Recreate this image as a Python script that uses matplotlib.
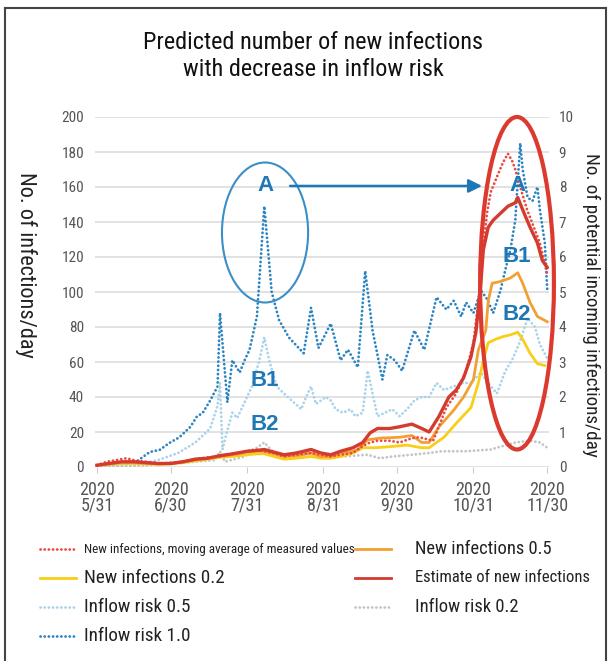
import matplotlib
matplotlib.use("Agg")
import matplotlib.pyplot as plt
from matplotlib import font_manager
from matplotlib.patches import Ellipse
from matplotlib.lines import Line2D

# ---------------------------------------------------------
# pick a narrow sans font if one is installed (the original uses a condensed face)

def pick_narrow():
  fonts = font_manager.fontManager.ttflist
  names = {f.name for f in fonts}
  for n in ['Liberation Sans Narrow', 'Roboto Condensed', 'Noto Sans Condensed',
            'DejaVu Sans Condensed', 'Open Sans Condensed']:
    if n in names:
      return n, 'normal', True
  for fam in ['Roboto', 'Noto Sans', 'DejaVu Sans', 'Open Sans']:
    for f in fonts:
      if f.name == fam and str(f.stretch) in ('condensed', 'semi-condensed') and f.style == 'normal':
        return fam, str(f.stretch), True
  return 'Liberation Sans', 'normal', False

FAMILY, STRETCH, NARROW = pick_narrow()
plt.rcParams['font.family'] = [FAMILY, 'DejaVu Sans']
plt.rcParams['font.stretch'] = STRETCH
k = 1.0 if NARROW else 0.88   # shrink text a bit when only a normal-width face exists

# ---------------------------------------------------------
# data: x = days after 2020-05-31

# left axis (No. of infections/day)
measured_days = [0, 4, 8, 12, 16, 20, 25, 30, 35, 40, 45, 50, 55, 61, 64, 68, 72, 76, 81, 87,
                 91, 95, 99, 104, 108, 111, 114, 119, 123, 128, 131, 136.6, 142, 146, 150, 153,
                 155, 157, 158.5, 160, 162.6, 165, 167, 168.7, 170, 172, 174.8, 177, 180, 183]
measured_vals = [1, 3, 4, 5, 3.5, 3, 2, 2.5, 3, 4.5, 5.5, 6, 7.5, 9, 10, 9, 8, 6, 7, 8,
                 7, 6, 7, 8, 12, 14, 15, 15, 14, 16.5, 17, 15, 34, 42, 55, 71,
                 95, 125, 145, 157, 166, 174, 179, 175, 170, 160, 147, 139, 128, 110]

est_days = [0, 5, 10, 15, 20, 25, 30, 35, 40, 45, 50, 55, 61, 65, 68, 72, 76, 81, 87, 91,
            95, 99, 104, 108, 111, 114, 119, 123, 128, 132, 135, 139, 143, 146, 149, 152,
            154, 156, 157, 159, 161, 164, 167, 170, 171, 173, 176, 179, 181, 183]
est_vals = [1, 2, 3, 3, 2.5, 2, 2, 3, 4.5, 5, 6.5, 7.5, 9, 9.5, 10, 8.5, 7, 8, 10, 8,
            7, 9, 11, 14, 19.5, 22, 22, 23, 24.5, 22, 20, 29, 40, 44, 51, 63,
            77, 105, 124, 137, 141, 145, 149, 151, 154, 147, 137, 128, 118, 114]

nf05_days = [0, 5, 10, 15, 20, 25, 30, 35, 40, 45, 50, 55, 61, 65, 68, 72, 76, 81, 87, 91,
             95, 99, 104, 106, 110, 115, 123, 128, 132, 135, 139, 145, 149, 153, 155, 158,
             159, 160.6, 164, 168, 171, 173, 176, 179, 183]
nf05_vals = [1, 2, 2.5, 2.5, 2, 1.8, 2, 3, 4, 5, 6, 7, 8.5, 9, 9, 7.5, 6, 6.5, 8, 6,
             6, 8, 9, 10, 15.5, 16.5, 17, 18, 14, 14, 23, 32.5, 40, 50, 67, 78,
             95, 105, 106, 108, 111, 105, 94, 86, 83]

nf02_days = [0, 5, 10, 15, 20, 25, 30, 35, 40, 45, 50, 55, 61, 65, 68, 72, 76, 81, 87, 91,
             95, 99, 104, 108, 113, 118, 126, 132, 135, 141, 146, 152, 155, 157, 159, 162,
             165, 168, 171, 173, 176, 179, 182]
nf02_vals = [1, 1.5, 2, 2, 1.8, 1.5, 1.8, 2.5, 3.5, 4.5, 5.5, 6, 7, 7.5, 7.5, 6, 4.5, 5, 6, 5,
             5, 6, 8, 11, 11, 11.5, 12.5, 11, 11, 17, 25, 34, 48, 61, 71, 73,
             74.5, 75.5, 77, 73, 65, 59, 58]

# right axis (No. of potential incoming infections/day)
risk10_days = [0, 8, 16, 21.5, 25.5, 29.5, 33.5, 38, 40.5, 43, 46, 49, 50, 53, 55, 58, 60, 62,
               65, 68, 71, 74, 78, 84, 87, 90, 95, 99, 102, 106, 109, 112, 116, 118, 121, 124,
               129, 133, 138, 142, 145, 148, 150, 153, 156, 158.5, 161, 164, 166, 168, 170,
               172, 173, 175, 177, 179, 180, 182, 183]
risk10_vals = [0, 0.05, 0.15, 0.43, 0.49, 0.69, 0.85, 1.15, 1.43, 1.55, 1.9, 2.3, 4.4, 1.85,
               3.05, 2.7, 3.05, 3.35, 4.3, 7.45, 5.0, 4.2, 3.7, 3.25, 4.55, 3.4, 4.1, 3.05,
               3.35, 2.85, 5.6, 3.9, 2.5, 3.2, 3.05, 2.75, 3.9, 3.35, 4.85, 4.5, 4.75, 4.3,
               4.7, 4.4, 5.05, 4.8, 4.4, 5.05, 5.65, 6.2, 7.05, 9.25, 8.5, 7.7, 7.6, 8.0,
               7.35, 6.4, 5.05]

risk05_days = [0, 16, 25, 33, 40, 46, 49, 50, 51, 53, 55, 57, 60, 63, 66, 68, 70, 73, 76, 83,
               85, 87, 89, 93, 95, 97, 100, 103, 105, 108, 110, 112, 114, 117, 120, 123, 126,
               129, 132, 135, 138, 141, 145, 148, 152, 156, 159, 162.5, 166, 169, 172, 175,
               178, 180, 183]
risk05_vals = [0, 0.05, 0.2, 0.4, 0.7, 1.1, 1.75, 2.4, 0.5, 1.05, 1.55, 1.4, 1.85, 2.3, 3.05,
               3.7, 3.05, 2.3, 2.1, 1.65, 2.0, 2.3, 1.8, 2.0, 1.9, 1.65, 1.55, 1.65, 1.45,
               1.55, 2.75, 2.1, 1.45, 1.55, 1.65, 1.45, 1.65, 1.9, 2.0, 2.0, 2.4, 2.2, 2.3,
               2.4, 2.4, 2.7, 2.4, 2.1, 2.75, 3.1, 3.6, 4.25, 4.0, 3.5, 3.1]

risk02_days = [0, 20, 35, 48, 50, 52, 60, 68, 72, 80, 90, 100, 110, 115, 120, 128, 135, 140,
               150, 160, 165, 170, 176, 180, 183]
risk02_vals = [0, 0.05, 0.12, 0.2, 0.45, 0.15, 0.3, 0.7, 0.4, 0.3, 0.3, 0.3, 0.35, 0.25, 0.3,
               0.35, 0.4, 0.45, 0.45, 0.5, 0.6, 0.7, 0.75, 0.7, 0.55]

tick_days = [0, 30, 61, 92, 122, 153, 183]
tick_labels = ["2020\n5/31", "2020\n6/30", "2020\n7/31", "2020\n8/31",
               "2020\n9/30", "2020\n10/31", "2020\n11/30"]

# ---------------------------------------------------------

W, H = 608, 661
fig = plt.figure(figsize=(W / 100, H / 100), dpi=100)

def fx(px):
  return px / W

def fy(py):
  return 1 - py / H

ax = fig.add_axes([fx(95), fy(467), fx(549) - fx(95), fy(117) - fy(467)])
ax2 = ax.twinx()
ax.set_zorder(2)
ax2.set_zorder(1)
ax.patch.set_visible(False)

dot = (0, (0.05, 1.45))   # round dots
dstyle = dict(lw=2, ls=dot, dash_capstyle='round')
sstyle = dict(lw=2)
blue = '#2b84c2'
ltblue = '#a9d3ea'
grey = '#c4c4c4'

l_r10, = ax2.plot(risk10_days, risk10_vals, color=blue, **dstyle)
l_r05, = ax2.plot(risk05_days, risk05_vals, color=ltblue, **dstyle)
l_r02, = ax2.plot(risk02_days, risk02_vals, color=grey, **dstyle)

l_02, = ax.plot(nf02_days, nf02_vals, color='#f8cf18', **sstyle)
l_05, = ax.plot(nf05_days, nf05_vals, color='#f2a032', **sstyle)
l_meas, = ax.plot(measured_days, measured_vals, color='#ec4a40', **dstyle)
l_est, = ax.plot(est_days, est_vals, color='#d33b2f', lw=2.4)

ax.set_xlim(-0.8, 183.7)
ax.set_ylim(0, 200)
ax2.set_ylim(0, 10)
ax.set_yticks(range(0, 201, 20))
ax2.set_yticks(range(0, 11))
ax.set_xticks(tick_days)
ax.set_xticklabels(tick_labels, linespacing=0.85)

ax2.yaxis.grid(True, color='#dddddd', lw=1.2)
ax2.set_axisbelow(True)
for a in (ax, ax2):
  for s in a.spines.values():
    s.set_visible(False)

ax.tick_params(axis='y', length=0, pad=8, labelsize=11 * k, labelcolor='#555555')
ax2.tick_params(axis='y', length=0, pad=7, labelsize=11 * k, labelcolor='#555555')
ax.tick_params(axis='x', length=4, color='#cccccc', pad=6, labelsize=13 * k, labelcolor='#555555')

# annotations
acol = '#1f78b6'
ax.add_patch(Ellipse((68.3, 134), 35, 80, fill=False, ec='#3a8fc6', lw=1.5, zorder=5))
ax.add_patch(Ellipse((170.7, 105), 30, 190, fill=False, ec='#dc3a2e', lw=3, zorder=5,
                     clip_on=False))
ax.annotate('', xy=(156.5, 160.6), xytext=(78.5, 160.6),
            arrowprops=dict(arrowstyle='-|>', color=acol, lw=1.8, mutation_scale=20,
                            shrinkA=0, shrinkB=0), zorder=6)
lab = dict(color=acol, fontsize=16, fontweight='bold', family='Liberation Sans',
           fontstretch='normal', ha='center', va='center', zorder=7)
ax.text(68.3, 160.6, 'A', **lab)
ax.text(68.3, 49.7, 'B1', **lab)
ax.text(68.3, 24, 'B2', **lab)
ax.text(170.7, 160.6, 'A', **lab)
ax.text(170.7, 120, 'B1', **lab)
ax.text(170.7, 87, 'B2', **lab)

# titles and axis labels
fig.text(fx(313), fy(56), 'Predicted number of new infections\nwith decrease in inflow risk',
         ha='center', va='center', fontsize=17.5 * k, linespacing=1.2, color='#111111')
fig.text(fx(26), fy(265), 'No. of infections/day', rotation=270, ha='center', va='center',
         fontsize=16 * k, color='#222222')
fig.text(fx(591), fy(305), 'No. of potential incoming infections/day', rotation=270,
         ha='center', va='center', fontsize=13.8 * k, color='#222222')

# legend drawn by hand so that the smaller first label keeps rows aligned
entries = [
  (l_meas, dstyle, 'New infections, moving average of measured values', 0, 0, 9.5),
  (l_02, sstyle, 'New infections 0.2', 0, 1, 13.8),
  (l_r05, dstyle, 'Inflow risk 0.5', 0, 2, 13.8),
  (l_r10, dstyle, 'Inflow risk 1.0', 0, 3, 13.8),
  (l_05, sstyle, 'New infections 0.5', 1, 0, 13.3),
  (l_est, sstyle, 'Estimate of new infections', 1, 1, 12),
  (l_r02, dstyle, 'Inflow risk 0.2', 1, 2, 13.3),
]
col_x = [40, 355]
text_off = [44, 60]
for line, style, text, col, row, fs in entries:
  x0 = col_x[col]
  y0 = 549 + row * 29
  fig.add_artist(Line2D([fx(x0), fx(x0 + 36)], [fy(y0), fy(y0)], color=line.get_color(),
                        **style))
  fig.text(fx(x0 + text_off[col]), fy(y0), text, ha='left', va='center', fontsize=fs * k,
           color='#222222')

# outer frame
fc = '#444444'
fig.add_artist(Line2D([fx(5), fx(5)], [fy(8), 0], color=fc, lw=1.5))
fig.add_artist(Line2D([fx(5), fx(606)], [fy(8), fy(8)], color=fc, lw=1.5))
fig.add_artist(Line2D([fx(606), fx(606)], [fy(8), 0], color=fc, lw=1.5))

fig.savefig('out.png', dpi=100)
